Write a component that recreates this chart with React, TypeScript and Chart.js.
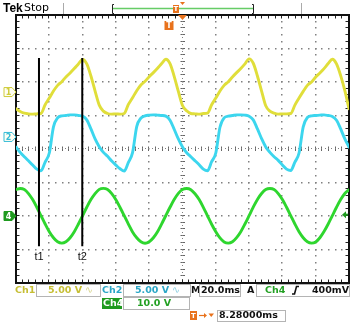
import React, { useEffect, useRef } from "react";
import { Chart, registerables } from "chart.js";

Chart.register(...registerables);

// ---- sample times (ms) ----
const timesMs = [
  0, 2.5, 5, 7.5, 10, 12.5, 15, 17.5, 20, 22.5, 25, 27.5, 30, 32.5, 35, 37.5, 40, 42.5, 45, 47.5,
  50, 52.5, 55, 57.5, 60, 62.5, 65, 67.5, 70, 72.5, 75, 77.5, 80, 82.5, 85, 87.5, 90, 92.5, 95, 97.5,
  100, 102.5, 105, 107.5, 110, 112.5, 115, 117.5, 120, 122.5, 125, 127.5, 130, 132.5, 135, 137.5, 140, 142.5, 145, 147.5,
  150, 152.5, 155, 157.5, 160, 162.5, 165, 167.5, 170, 172.5, 175, 177.5, 180, 182.5, 185, 187.5, 190, 192.5, 195, 197.5,
  200,
];

// ---- Ch1 (yellow), volts ----
const ch1Volts = [
  -2.5, -2.9, -3.15, -3.25, -3.3, -3.25, -3.2, -1.9, -0.9, 0.15, 1.0, 1.55, 2.25, 2.85, 3.5, 4.2, 4.85, 4.2, 2.4, 0.15,
  -1.95, -2.85, -3.2, -3.3, -3.25, -3.3, -3.2, -1.85, -0.85, 0.2, 1.05, 1.6, 2.3, 2.9, 3.55, 4.25, 4.9, 4.25, 2.35, 0.1,
  -2.0, -2.8, -3.2, -3.25, -3.3, -3.2, -3.15, -1.9, -0.9, 0.15, 1.0, 1.55, 2.25, 2.9, 3.5, 4.2, 4.95, 4.3, 2.4, 0.15,
  -2.05, -2.85, -3.15, -3.3, -3.25, -3.25, -3.2, -1.95, -0.9, 0.1, 1.0, 1.5, 2.25, 2.85, 3.5, 4.25, 4.9, 4.2, 2.45, 0.2,
  -2.5,
];

// ---- Ch2 (cyan), volts ----
const ch2Volts = [
  -1.5, -2.3, -2.95, -3.55, -4.2, -4.8, -5.05, -3.75, -2.4, 1.5, 2.85, 3.15, 3.2, 3.3, 3.3, 3.2, 3.1, 2.55, 1.2, -0.3,
  -1.45, -2.3, -2.9, -3.6, -4.2, -4.75, -5.1, -3.8, -2.35, 1.55, 2.8, 3.15, 3.25, 3.3, 3.25, 3.2, 3.1, 2.5, 1.15, -0.3,
  -1.5, -2.35, -2.95, -3.55, -4.15, -4.8, -5.05, -3.7, -2.4, 1.45, 2.85, 3.1, 3.2, 3.3, 3.3, 3.25, 3.1, 2.55, 1.2, -0.25,
  -1.5, -2.3, -2.95, -3.5, -4.2, -4.8, -5.0, -3.75, -2.4, 1.5, 2.9, 3.15, 3.2, 3.25, 3.3, 3.2, 3.05, 2.5, 1.2, -0.3,
  -1.5,
];

// ---- Ch4 (green), volts ----
const ch4Volts = [
  7.9, 8.2, 7.9, 6.7, 4.9, 2.6, 0.1, -2.4, -4.7, -6.5, -7.7, -8.1, -7.7, -6.5, -4.7, -2.4, 0.1, 2.6, 4.9, 6.7,
  7.95, 8.25, 7.9, 6.7, 4.85, 2.55, 0.1, -2.4, -4.75, -6.5, -7.7, -8.15, -7.7, -6.5, -4.7, -2.35, 0.15, 2.6, 4.9, 6.75,
  7.9, 8.2, 7.85, 6.65, 4.9, 2.6, 0.05, -2.45, -4.7, -6.55, -7.75, -8.1, -7.7, -6.45, -4.7, -2.4, 0.1, 2.65, 4.95, 6.7,
  7.9, 8.2, 7.9, 6.7, 4.9, 2.6, 0.1, -2.4, -4.7, -6.5, -7.7, -8.1, -7.75, -6.5, -4.65, -2.4, 0.1, 2.6, 4.9, 6.7,
  7.85,
];

// ---- cursors ----
const cursorTimesMs = [13.8, 39.8];
const cursorNames = ["t1", "t2"];
const cursorSpanDiv = [2.72, -2.9];

// ---- scope settings ----
const hDivs = 10;
const vDivs = 8;
const msPerDiv = 20;
const ch1VoltsPerDiv = 5;
const ch2VoltsPerDiv = 5;
const ch4VoltsPerDiv = 10;
const ch1OffsetDiv = 1.7;
const ch2OffsetDiv = 0.36;
const ch4OffsetDiv = -2;
const triggerLevelVolts = 0.4;
const triggerTimeMs = 100;

// ---- readout texts ----
const ch1ScaleText = "5.00 V";
const ch2ScaleText = "5.00 V";
const ch4ScaleText = "10.0 V";
const timeBaseText = "20.0ms";
const triggerLevelText = "400mV";
const triggerDelayText = "8.28000ms";

const YELLOW = "#e0de3a";
const CYAN = "#3cd6ee";
const GREEN = "#2ed62e";
const YELLOW_TXT = "#c6be34";
const CYAN_TXT = "#2ba6c6";
const GREEN_TXT = "#23a023";
const GREEN_BG = "#1f9a1f";
const ORANGE = "#e8721c";

function rangeFor(vpd: number, off: number) {
  return { min: -(vDivs / 2 + off) * vpd, max: (vDivs / 2 - off) * vpd };
}

function pts(vals: number[]) {
  return timesMs.map((t, i) => ({ x: t, y: vals[i] }));
}

const READ_FONT = "bold 9.5px 'DejaVu Sans'";

function txt(ctx: CanvasRenderingContext2D, s: string, x: number, y: number, color: string, font = READ_FONT, align: CanvasTextAlign = "left") {
  ctx.font = font;
  ctx.fillStyle = color;
  ctx.textAlign = align;
  ctx.textBaseline = "middle";
  ctx.fillText(s, x, y);
}

function box(ctx: CanvasRenderingContext2D, x: number, y: number, w: number, h: number) {
  ctx.strokeStyle = "#b4b4b4";
  ctx.lineWidth = 1;
  ctx.strokeRect(x + 0.5, y + 0.5, w, h);
}

function groundMarker(ctx: CanvasRenderingContext2D, y: number, label: string, color: string, filled: boolean) {
  ctx.beginPath();
  ctx.moveTo(4, y - 4.5);
  ctx.lineTo(12, y - 4.5);
  ctx.lineTo(16, y);
  ctx.lineTo(12, y + 4.5);
  ctx.lineTo(4, y + 4.5);
  ctx.closePath();
  ctx.fillStyle = filled ? color : "#fffef2";
  ctx.fill();
  ctx.strokeStyle = color;
  ctx.lineWidth = 1;
  ctx.stroke();
  txt(ctx, label, 8.5, y + 0.5, filled ? "#fff" : color, "bold 8px 'DejaVu Sans'", "center");
}

function tBox(ctx: CanvasRenderingContext2D, x: number, y: number, w: number, h: number, fs: number) {
  ctx.fillStyle = ORANGE;
  ctx.fillRect(x, y, w, h);
  txt(ctx, "T", x + w / 2, y + h / 2 + 0.5, "#fff", `bold ${fs}px 'DejaVu Sans'`, "center");
}

const scopePlugin = {
  id: "scope",
  beforeDraw(chart: any) {
    const { ctx, width, height } = chart;
    ctx.save();
    ctx.fillStyle = "#fff";
    ctx.fillRect(0, 0, width, height);
    ctx.restore();
  },
  beforeDatasetsDraw(chart: any) {
    const { ctx, chartArea } = chart;
    const xs = chart.scales.x;
    const yd = chart.scales.yd;
    const { left, right, top, bottom } = chartArea;
    ctx.save();
    // dotted grid
    ctx.fillStyle = "#808080";
    for (let i = 1; i < hDivs; i++) {
      if (i === hDivs / 2) continue;
      const x = Math.round(xs.getPixelForValue(i * msPerDiv));
      for (let m = 1; m < vDivs * 5; m++) {
        const y = Math.round(yd.getPixelForValue(-vDivs / 2 + m / 5));
        ctx.fillRect(x - 1, y - 1, 1.5, 1.5);
      }
    }
    for (let j = 1; j < vDivs; j++) {
      if (j === vDivs / 2) continue;
      const y = Math.round(yd.getPixelForValue(-vDivs / 2 + j));
      for (let m = 1; m < hDivs * 5; m++) {
        const x = Math.round(xs.getPixelForValue((m * msPerDiv) / 5));
        ctx.fillRect(x - 1, y - 1, 1.5, 1.5);
      }
    }
    // centre cross with ticks
    const cx = Math.round(xs.getPixelForValue(triggerTimeMs));
    const cy = Math.round(yd.getPixelForValue(0));
    ctx.strokeStyle = "#666";
    ctx.lineWidth = 1;
    ctx.beginPath();
    for (let m = 1; m < vDivs * 5; m++) {
      const y = Math.round(yd.getPixelForValue(-vDivs / 2 + m / 5)) - 0.5;
      ctx.moveTo(cx - 2.5, y);
      ctx.lineTo(cx + 2, y);
    }
    for (let m = 1; m < hDivs * 5; m++) {
      const x = Math.round(xs.getPixelForValue((m * msPerDiv) / 5)) - 0.5;
      ctx.moveTo(x, cy - 2.5);
      ctx.lineTo(x, cy + 2);
    }
    ctx.stroke();
    ctx.fillStyle = "#808080";
    for (let m = 1; m < vDivs * 10; m++) {
      const y = Math.round(yd.getPixelForValue(-vDivs / 2 + m / 10));
      ctx.fillRect(cx - 1, y - 1, 1, 1);
    }
    for (let m = 1; m < hDivs * 10; m++) {
      const x = Math.round(xs.getPixelForValue((m * msPerDiv) / 10));
      ctx.fillRect(x - 1, cy - 1, 1, 1);
    }
    // border ticks
    ctx.strokeStyle = "#222";
    ctx.beginPath();
    for (let m = 1; m < hDivs * 5; m++) {
      const x = Math.round(xs.getPixelForValue((m * msPerDiv) / 5)) - 0.5;
      ctx.moveTo(x, top);
      ctx.lineTo(x, top + 3.5);
      ctx.moveTo(x, bottom);
      ctx.lineTo(x, bottom - 3.5);
    }
    for (let m = 1; m < vDivs * 5; m++) {
      const y = Math.round(yd.getPixelForValue(-vDivs / 2 + m / 5)) - 0.5;
      ctx.moveTo(left, y);
      ctx.lineTo(left + 3.5, y);
      ctx.moveTo(right, y);
      ctx.lineTo(right - 3.5, y);
    }
    ctx.stroke();
    // border
    ctx.strokeStyle = "#111";
    ctx.lineWidth = 2;
    ctx.strokeRect(left, top, right - left, bottom - top);
    ctx.restore();
  },
  afterDraw(chart: any) {
    const { ctx } = chart;
    const xs = chart.scales.x;
    const yd = chart.scales.yd;
    ctx.save();

    // cursor labels
    cursorTimesMs.forEach((t, i) => {
      const x = xs.getPixelForValue(t);
      const yb = yd.getPixelForValue(cursorSpanDiv[1]);
      txt(ctx, cursorNames[i], x, yb + 11, "#111", "11px 'Liberation Sans'", "center");
    });

    // ground markers
    groundMarker(ctx, chart.scales.y1.getPixelForValue(0), "1", "#cfcc3a", false);
    groundMarker(ctx, chart.scales.y2.getPixelForValue(0), "2", "#36bcd6", false);
    groundMarker(ctx, chart.scales.y4.getPixelForValue(0), "4", GREEN_BG, true);

    // trigger level arrow (right)
    const ty = chart.scales.y4.getPixelForValue(triggerLevelVolts);
    ctx.fillStyle = GREEN_BG;
    ctx.beginPath();
    ctx.moveTo(342, ty);
    ctx.lineTo(346, ty - 3.5);
    ctx.lineTo(346, ty + 3.5);
    ctx.closePath();
    ctx.fill();
    ctx.fillRect(345, ty - 1, 3, 2);

    // trigger position marker (top)
    const tx = xs.getPixelForValue(triggerTimeMs);
    ctx.fillStyle = ORANGE;
    ctx.beginPath();
    ctx.moveTo(tx - 4.5, 15);
    ctx.lineTo(tx + 4.5, 15);
    ctx.lineTo(tx, 20);
    ctx.closePath();
    ctx.fill();
    tBox(ctx, tx - 18, 21, 9, 9, 8);

    // ---- top status bar ----
    txt(ctx, "Tek", 3, 8.5, "#000", "bold 12px 'Liberation Sans'");
    txt(ctx, "Stop", 24, 8, "#000", "11px 'DejaVu Sans'");
    ctx.strokeStyle = "#aaa";
    ctx.lineWidth = 1;
    ctx.beginPath();
    ctx.moveTo(63.5, 3);
    ctx.lineTo(63.5, 14);
    ctx.moveTo(301.5, 3);
    ctx.lineTo(301.5, 14);
    ctx.stroke();
    ctx.strokeStyle = "#6c6";
    ctx.lineWidth = 1.5;
    ctx.beginPath();
    ctx.moveTo(113, 8.5);
    ctx.lineTo(253, 8.5);
    ctx.stroke();
    ctx.strokeStyle = "#222";
    ctx.lineWidth = 1;
    ctx.beginPath();
    ctx.moveTo(114, 4.5);
    ctx.lineTo(112.5, 4.5);
    ctx.lineTo(112.5, 13.5);
    ctx.lineTo(114, 13.5);
    ctx.moveTo(252, 4.5);
    ctx.lineTo(253.5, 4.5);
    ctx.lineTo(253.5, 13.5);
    ctx.lineTo(252, 13.5);
    ctx.stroke();
    tBox(ctx, 173, 5, 6, 8, 7);
    ctx.fillStyle = ORANGE;
    ctx.beginPath();
    ctx.moveTo(180, 2);
    ctx.lineTo(185, 2);
    ctx.lineTo(182.5, 5);
    ctx.closePath();
    ctx.fill();

    // ---- bottom readouts ----
    const r1 = 290.5;
    txt(ctx, "Ch1", 15, r1, YELLOW_TXT);
    box(ctx, 36, 284, 64, 12);
    txt(ctx, ch1ScaleText, 48, r1, YELLOW_TXT);
    txt(ctx, "∿", 85, r1, "#d8d48c", "9.5px 'DejaVu Sans'");
    txt(ctx, "Ch2", 102, r1, CYAN_TXT);
    box(ctx, 123, 284, 67, 12);
    txt(ctx, ch2ScaleText, 135, r1, CYAN_TXT);
    txt(ctx, "∿", 172, r1, "#8ccfe0", "9.5px 'DejaVu Sans'");
    txt(ctx, "M", 191, r1, "#111");
    box(ctx, 199, 284, 41, 12);
    txt(ctx, timeBaseText, 201, r1, "#111");
    txt(ctx, "A", 247, r1, "#111");
    box(ctx, 256, 284, 93, 12);
    txt(ctx, "Ch4", 265, r1, GREEN_TXT);
    ctx.strokeStyle = "#111";
    ctx.lineWidth = 1.6;
    ctx.beginPath();
    ctx.moveTo(292, 294);
    ctx.lineTo(294.5, 294);
    ctx.lineTo(296.5, 286.5);
    ctx.lineTo(299, 286.5);
    ctx.stroke();
    txt(ctx, triggerLevelText, 349, r1, "#111", READ_FONT, "right");

    const r2 = 303.5;
    ctx.fillStyle = GREEN_BG;
    ctx.fillRect(102, 298, 20, 11);
    txt(ctx, "Ch4", 103, r2, "#fff");
    box(ctx, 123, 297, 66, 12);
    txt(ctx, ch4ScaleText, 137, r2, GREEN_TXT);

    const r3 = 315.5;
    tBox(ctx, 190, 311, 7, 9, 7);
    ctx.strokeStyle = ORANGE;
    ctx.lineWidth = 1.2;
    ctx.beginPath();
    ctx.moveTo(199, r3);
    ctx.lineTo(205, r3);
    ctx.stroke();
    ctx.fillStyle = ORANGE;
    ctx.beginPath();
    ctx.moveTo(204, r3 - 2.5);
    ctx.lineTo(207, r3);
    ctx.lineTo(204, r3 + 2.5);
    ctx.closePath();
    ctx.fill();
    ctx.beginPath();
    ctx.moveTo(208.5, r3 - 2);
    ctx.lineTo(214, r3 - 2);
    ctx.lineTo(211.25, r3 + 1.5);
    ctx.closePath();
    ctx.fill();
    box(ctx, 217, 310, 68, 11);
    txt(ctx, triggerDelayText, 219, r3 + 0.5, "#111");

    ctx.restore();
  },
};

export default function App() {
  const ref = useRef<HTMLCanvasElement>(null);
  useEffect(() => {
    const canvas = ref.current!;
    const traceStyle = {
      borderWidth: 2.9,
      pointRadius: 0,
      cubicInterpolationMode: "monotone" as const,
      borderJoinStyle: "round" as const,
      borderCapStyle: "round" as const,
      fill: false,
      order: 1,
    };
    const cursorSets = cursorTimesMs.map((t) => ({
      data: [
        { x: t, y: cursorSpanDiv[0] },
        { x: t, y: cursorSpanDiv[1] },
      ],
      yAxisID: "yd",
      borderColor: "#000",
      borderWidth: 2,
      pointRadius: 0,
      order: 0,
    }));
    const chart = new Chart(canvas, {
      type: "line",
      data: {
        datasets: [
          ...cursorSets,
          { ...traceStyle, data: pts(ch1Volts), yAxisID: "y1", borderColor: YELLOW },
          { ...traceStyle, data: pts(ch2Volts), yAxisID: "y2", borderColor: CYAN },
          { ...traceStyle, data: pts(ch4Volts), yAxisID: "y4", borderColor: GREEN },
        ] as any,
      },
      options: {
        responsive: false,
        animation: false,
        events: [],
        layout: { padding: { left: 16, right: 6, top: 15, bottom: 41 } },
        plugins: { legend: { display: false }, tooltip: { enabled: false } },
        scales: {
          x: { type: "linear", min: 0, max: hDivs * msPerDiv, display: false },
          y1: { type: "linear", ...rangeFor(ch1VoltsPerDiv, ch1OffsetDiv), display: false },
          y2: { type: "linear", ...rangeFor(ch2VoltsPerDiv, ch2OffsetDiv), display: false },
          y4: { type: "linear", ...rangeFor(ch4VoltsPerDiv, ch4OffsetDiv), display: false },
          yd: { type: "linear", min: -vDivs / 2, max: vDivs / 2, display: false },
        },
      },
      plugins: [scopePlugin],
    });
    return () => chart.destroy();
  }, []);
  return (
    <div style={{ position: "fixed", left: 0, top: 0, width: 355, height: 324, background: "#fff" }}>
      <canvas ref={ref} width={355} height={324} style={{ display: "block", width: 355, height: 324 }} />
    </div>
  );
}
